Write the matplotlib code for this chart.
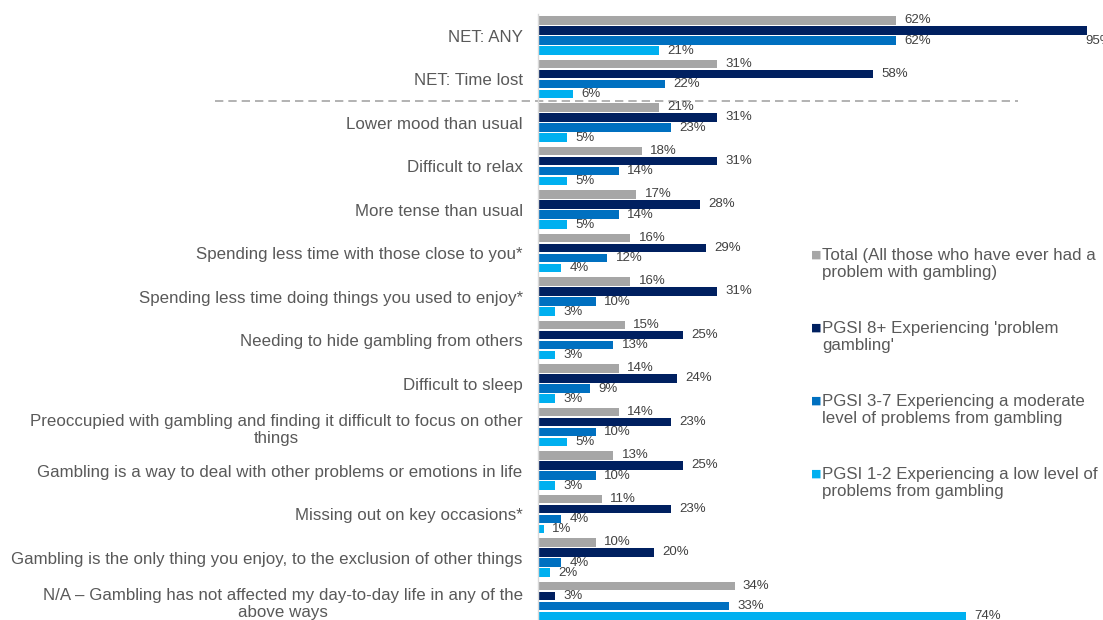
import matplotlib.pyplot as plt
import matplotlib.transforms as mtransforms
import numpy as np

categories = [
    "NET: ANY",
    "NET: Time lost",
    "Lower mood than usual",
    "Difficult to relax",
    "More tense than usual",
    "Spending less time with those close to you*",
    "Spending less time doing things you used to enjoy*",
    "Needing to hide gambling from others",
    "Difficult to sleep",
    "Preoccupied with gambling and finding it difficult to focus on other\nthings",
    "Gambling is a way to deal with other problems or emotions in life",
    "Missing out on key occasions*",
    "Gambling is the only thing you enjoy, to the exclusion of other things",
    "N/A \u2013 Gambling has not affected my day-to-day life in any of the\nabove ways",
]

total = [62, 31, 21, 18, 17, 16, 16, 15, 14, 14, 13, 11, 10, 34]
pgsi_8 = [95, 58, 31, 31, 28, 29, 31, 25, 24, 23, 25, 23, 20, 3]
pgsi_3_7 = [62, 22, 23, 14, 14, 12, 10, 13, 9, 10, 10, 4, 4, 33]
pgsi_1_2 = [21, 6, 5, 5, 5, 4, 3, 3, 3, 5, 3, 1, 2, 74]

series_labels = [
    "Total (All those who have ever had a\nproblem with gambling)",
    "PGSI 8+ Experiencing 'problem\ngambling'",
    "PGSI 3-7 Experiencing a moderate\nlevel of problems from gambling",
    "PGSI 1-2 Experiencing a low level of\nproblems from gambling",
]
colors = ["#A6A6A6", "#002060", "#0070C0", "#00B0F0"]

plt.rcParams["font.family"] = ["Liberation Sans", "DejaVu Sans"]

W, H = 1103, 620
fig = plt.figure(figsize=(W / 100, H / 100), dpi=100)
ax = fig.add_axes([538 / W, -2.75 / H, 565 / W, 609 / H])

y = np.arange(len(categories))
step = 0.23
bar_h = 0.19
xmax = 565 / 5.78
all_series = [total, pgsi_8, pgsi_3_7, pgsi_1_2]
for k, (vals, col) in enumerate(zip(all_series, colors)):
    pos = y + (k - 1.5) * step
    ax.barh(pos, vals, height=bar_h, color=col)
    for p, v in zip(pos, vals):
        # labels that would run off the right edge drop below the bar end
        off = (6, 0) if v < 0.95 * xmax else (-1, -7.5)
        ax.annotate(f"{v}%", (v, p), xytext=off, textcoords="offset points",
                    va="center", ha="left", fontsize=9.5, color="#404040",
                    annotation_clip=False)

ax.set_xlim(0, xmax)
ax.set_ylim(len(categories) - 0.5, -0.5)
ax.set_yticks(y)
ax.set_yticklabels(categories, fontsize=12.2, color="#595959", multialignment="center")
ax.tick_params(axis="y", length=0, pad=11)
ax.set_xticks([])
for side in ["top", "right", "bottom"]:
    ax.spines[side].set_visible(False)
ax.spines["left"].set_color("#D9D9D9")
ax.spines["left"].set_linewidth(1)

# separator between the NET rows and the individual items
trans = mtransforms.blended_transform_factory(ax.transAxes, ax.transData)
ax.plot([(215 - 538) / 565, (1018 - 538) / 565], [1.5, 1.5], transform=trans,
        clip_on=False, color="#A6A6A6", lw=1.2, ls=(0, (5, 3)))

# legend, square aligned with first line of each entry
for k, (lab, col) in enumerate(zip(series_labels, colors)):
    yc = 255 + 73 * k
    fig.text(811 / W, 1 - yc / H, "\u25A0", color=col, fontsize=8,
             va="center", ha="left", family="DejaVu Sans")
    fig.text(822 / W, 1 - (yc - 7) / H, lab, color="#595959", fontsize=12.2,
             va="top", ha="left", linespacing=1.2)

fig.savefig("out.png", dpi=100)
